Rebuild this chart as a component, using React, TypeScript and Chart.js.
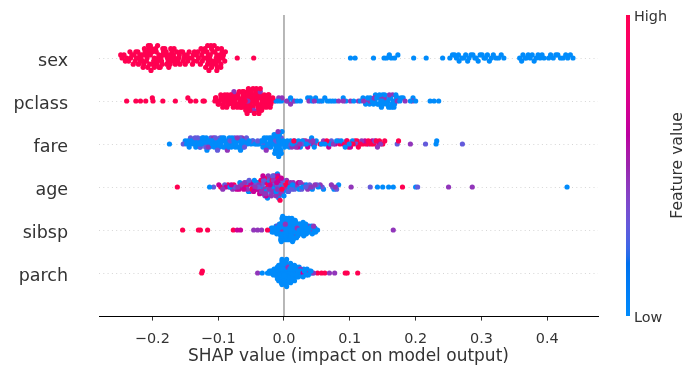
import React, { useEffect, useRef } from "react";
import { Chart, registerables } from "chart.js";

Chart.register(...registerables);

const FONT = '"DejaVu Sans", sans-serif';

// Features, top to bottom
const features = ["sex", "pclass", "fare", "age", "sibsp", "parch"];
const xTicks = [-0.2, -0.1, 0.0, 0.1, 0.2, 0.3, 0.4];
const xMin = -0.281;
const xMax = 0.477;

// feature-value levels (colour position on the colour bar)
const LOW = 0;
const LOWMID = 0.3;
const MID = 0.45;
const HIGHMID = 0.65;
const HIGH = 1;

// ---------- SHAP values ----------
const sexHigh = [-0.248,-0.246,-0.243,-0.241,-0.239,-0.236,-0.234,-0.233,-0.231,-0.229,-0.228,-0.226,-0.225,-0.224,-0.222,-0.221,-0.220,-0.219,-0.218,-0.217,-0.216,-0.215,-0.214,-0.213,-0.212,-0.211,-0.210,-0.209,-0.208,-0.207,-0.206,-0.205,-0.205,-0.204,-0.203,-0.203,-0.202,-0.201,-0.200,-0.199,-0.198,-0.197,-0.197,-0.195,-0.194,-0.193,-0.192,-0.192,-0.191,-0.190,-0.190,-0.188,-0.187,-0.186,-0.185,-0.184,-0.184,-0.183,-0.181,-0.180,-0.179,-0.178,-0.177,-0.176,-0.175,-0.174,-0.173,-0.172,-0.171,-0.170,-0.170,-0.168,-0.167,-0.166,-0.165,-0.164,-0.163,-0.161,-0.160,-0.159,-0.158,-0.157,-0.154,-0.153,-0.152,-0.151,-0.150,-0.147,-0.146,-0.145,-0.144,-0.140,-0.139,-0.138,-0.137,-0.136,-0.133,-0.132,-0.131,-0.130,-0.127,-0.126,-0.125,-0.124,-0.123,-0.122,-0.120,-0.119,-0.118,-0.117,-0.116,-0.116,-0.115,-0.115,-0.114,-0.113,-0.112,-0.111,-0.110,-0.110,-0.109,-0.109,-0.108,-0.106,-0.105,-0.104,-0.104,-0.103,-0.102,-0.102,-0.101,-0.101,-0.099,-0.098,-0.097,-0.096,-0.096,-0.095,-0.094,-0.093,-0.092,-0.090,-0.089,-0.071,-0.046];
const sexLow = [0.101,0.108,0.136,0.152,0.156,0.160,0.163,0.168,0.173,0.197,0.216,0.241,0.252,0.256,0.259,0.262,0.265,0.266,0.270,0.273,0.276,0.279,0.281,0.284,0.287,0.290,0.292,0.295,0.298,0.301,0.304,0.306,0.309,0.312,0.315,0.318,0.322,0.326,0.330,0.334,0.358,0.361,0.363,0.366,0.368,0.371,0.374,0.377,0.380,0.383,0.386,0.389,0.392,0.395,0.402,0.405,0.409,0.413,0.416,0.420,0.424,0.428,0.431,0.435,0.439];

const pclassHigh = [-0.239,-0.225,-0.218,-0.210,-0.200,-0.199,-0.184,-0.165,-0.146,-0.142,-0.134,-0.123,-0.121,
  -0.105,-0.104,-0.103,-0.101,-0.100,-0.099,-0.098,-0.096,-0.095,-0.094,-0.093,-0.092,-0.091,-0.090,-0.089,-0.088,-0.087,-0.086,-0.085,-0.084,-0.083,-0.082,-0.081,-0.080,-0.079,-0.078,-0.077,-0.076,-0.075,-0.074,-0.073,-0.072,-0.071,-0.070,-0.069,-0.068,-0.068,-0.067,-0.066,-0.065,-0.064,-0.063,-0.063,-0.062,-0.062,-0.061,-0.060,-0.059,-0.059,-0.058,-0.058,-0.057,-0.056,-0.056,-0.055,-0.054,-0.054,-0.053,-0.053,-0.052,-0.051,-0.051,-0.050,-0.049,-0.049,-0.048,-0.047,-0.047,-0.046,-0.045,-0.045,-0.044,-0.044,-0.043,-0.042,-0.042,-0.041,-0.041,-0.040,-0.039,-0.039,-0.038,-0.038,-0.037,-0.036,-0.035,-0.035,-0.034,-0.034,-0.033,-0.032,-0.031,-0.030,-0.030,-0.029,-0.028,-0.027,-0.026,-0.025,-0.024,-0.023,-0.022,-0.021,-0.020,-0.019,-0.017,-0.015];
const pclassMid = [-0.076,-0.055,-0.050,-0.046,-0.036,-0.008,-0.003,0.004,0.010,0.016,0.038,0.046,0.055,0.083,0.090,0.101,0.113,0.121,0.128,0.133,0.137,0.146,0.152,0.160,0.165,0.172,0.184,0.195];
const pclassLow = [-0.012,-0.008,-0.004,0.006,0.010,0.014,0.020,0.025,0.036,0.040,0.043,0.048,0.052,0.058,0.062,0.066,0.070,0.074,0.078,0.090,0.094,0.106,0.116,0.120,0.124,0.127,0.130,0.131,0.134,0.136,0.138,0.139,0.141,0.142,0.144,0.145,0.147,0.148,0.149,0.150,0.151,0.153,0.154,0.155,0.156,0.157,0.158,0.159,0.161,0.162,0.163,0.164,0.166,0.167,0.168,0.169,0.170,0.171,0.173,0.176,0.178,0.181,0.192,0.196,0.200,0.222,0.228,0.235];

const fareLow = [-0.174,-0.150,-0.148,-0.146,-0.144,-0.143,-0.141,-0.139,-0.137,-0.136,-0.134,-0.132,
  -0.130,-0.129,-0.128,-0.126,-0.125,-0.124,-0.122,-0.121,-0.120,-0.118,-0.117,-0.116,-0.114,-0.113,-0.112,-0.110,-0.109,-0.108,-0.106,-0.105,-0.103,-0.102,
  -0.100,-0.099,-0.098,-0.096,-0.095,-0.094,-0.092,-0.091,-0.090,-0.088,-0.087,-0.085,-0.084,-0.083,-0.081,-0.080,-0.079,-0.077,-0.076,-0.074,-0.073,-0.072,-0.070,-0.069,-0.068,-0.066,-0.065,-0.063,-0.062,-0.061,-0.059,-0.058,-0.056,
  -0.053,-0.050,-0.047,-0.044,-0.041,-0.038,
  -0.035,-0.033,-0.032,-0.030,-0.029,-0.028,-0.026,-0.025,-0.024,-0.022,-0.021,-0.020,-0.019,-0.018,-0.017,-0.016,-0.015,-0.014,-0.013,-0.012,-0.012,-0.011,-0.011,-0.010,-0.010,-0.009,-0.009,-0.008,-0.008,-0.007,-0.007,-0.006,-0.006,-0.005,-0.004,-0.003,-0.002,-0.001,
  0.001,0.003,0.005,0.008,0.010,0.013,0.016,0.019,0.022,0.025,0.028,0.031,0.034,0.038,0.042,0.046,0.049,
  0.057,0.062,0.066,0.070,0.080,0.087,0.093,0.099,0.104,0.231,0.232];
const fareLowMid = [-0.153,-0.142,-0.135,-0.131,-0.127,-0.119,-0.111,-0.104,-0.101,-0.097,-0.089,-0.082,-0.075,-0.067,-0.060,-0.057,-0.048,-0.040,-0.031,-0.023,-0.013,-0.004,0.007,0.027,0.072,0.110,0.138,0.172,0.215,0.271];
const fareMid = [-0.115,-0.107,-0.086,-0.071,-0.064,-0.027,-0.009,0.012,0.018,0.024,0.033,0.040,0.044,0.047,0.060,0.075,0.083,0.095,0.118,0.128,0.142,0.147,0.192];
const fareHighMid = [0.021,0.036,0.043,0.068,0.078,0.090,0.101,0.123,0.134,0.144];
const fareHigh = [0.015,0.030,0.055,0.065,0.085,0.092,0.096,0.098,0.102,0.105,0.108,0.111,0.113,0.116,0.120,0.125,0.128,0.132,0.136,0.140,0.145,0.150,0.153,0.174];

const ageHigh = [-0.162,-0.096,-0.085,-0.076,-0.066,-0.058,-0.049,-0.042,-0.035,-0.030,-0.026,-0.024,-0.018,-0.014,-0.011,-0.006,-0.003,0.002,0.005,0.180];
const ageHighMid = [-0.099,-0.088,-0.080,-0.072,-0.068,-0.061,-0.055,-0.050,-0.046,-0.040,-0.037,-0.032,-0.030,-0.027,-0.021,-0.019,-0.015,-0.011,-0.009,-0.007,-0.004,0.008,0.022];
const ageMid = [-0.093,-0.083,-0.078,-0.070,-0.064,-0.060,-0.056,-0.052,-0.047,-0.044,-0.041,-0.038,-0.034,-0.031,-0.029,-0.028,-0.025,-0.024,-0.022,-0.019,-0.017,-0.016,-0.013,-0.012,-0.010,-0.007,-0.006,-0.003,0.001,0.004,0.010,0.014,0.019,0.025,0.030,0.036,0.041,0.047,0.055,0.072,0.078,0.102,0.250,0.286];
const ageLowMid = [-0.107,-0.090,-0.074,-0.063,-0.057,-0.053,-0.048,-0.043,-0.039,-0.036,-0.033,-0.031,-0.029,-0.026,-0.023,-0.020,-0.018,-0.017,-0.014,-0.012,-0.010,-0.008,-0.005,-0.002,0.003,0.007,0.012,0.016,0.021,0.027,0.033,0.039,0.044,0.050,0.058,0.074,0.080,0.131,0.203];
const ageLow = [-0.113,-0.082,-0.067,-0.054,-0.045,-0.039,-0.033,-0.027,-0.025,-0.023,-0.019,-0.016,-0.015,-0.012,-0.010,-0.008,-0.007,-0.005,-0.004,-0.001,0.000,0.006,0.009,0.013,0.017,0.023,0.028,0.034,0.043,0.052,0.060,0.076,0.083,0.142,0.150,0.159,0.166,0.200,0.430];

const sibspHigh = [-0.154,-0.130,-0.127,-0.116,-0.077,-0.025,-0.005,0.022];
const sibspHighMid = [-0.071,-0.066];
const sibspMid = [-0.046,-0.040,-0.034,-0.010,-0.004,0.002,0.013,0.017,0.020,0.036,0.040,0.045,0.166];
const sibspLow = [-0.021,-0.019,-0.018,-0.017,-0.016,-0.015,-0.014,-0.013,-0.012,-0.012,-0.011,-0.010,-0.009,-0.009,
  -0.008,-0.008,-0.007,-0.007,-0.006,-0.006,-0.005,-0.005,-0.005,-0.004,-0.004,-0.004,-0.003,-0.003,-0.003,-0.002,
  -0.002,-0.002,-0.001,-0.001,-0.001,0.000,0.000,0.000,0.001,0.001,0.001,
  0.001,0.002,0.002,0.002,0.003,0.003,0.003,0.003,0.004,0.004,0.004,0.004,0.005,
  0.005,0.005,0.005,0.006,0.006,0.006,0.006,0.007,0.007,0.007,0.007,0.008,0.008,
  0.008,0.008,0.009,0.009,0.009,0.009,0.010,0.010,0.010,0.010,0.011,0.011,
  0.011,0.012,0.012,0.012,0.013,0.013,0.013,0.014,0.014,0.014,0.015,
  0.015,0.015,0.016,0.016,0.016,0.017,0.017,0.017,0.018,0.018,
  0.018,0.019,0.019,0.020,0.020,0.020,0.021,0.021,0.022,
  0.022,0.023,0.023,0.024,0.024,0.025,0.025,0.026,
  0.026,0.027,0.027,0.028,0.028,0.029,0.029,
  0.030,0.030,0.031,0.031,0.032,0.032,0.033,0.033,0.034,0.034,0.035,
  0.036,0.037,0.037,0.038,0.039,0.040,0.041,0.042,0.043,0.044,0.045,0.046,0.047,0.048,0.049,0.051];

const parchHigh = [-0.125,-0.124,0.020,0.051,0.057,0.062,0.093,0.096,0.112];
const parchHighMid = [0.015,0.029,0.036];
const parchMid = [-0.040,0.006,0.012,0.025,0.033,0.040,0.045,0.069,0.077];
const parchLow = [-0.033,-0.025,-0.023,-0.022,-0.021,-0.020,-0.019,-0.018,-0.017,-0.016,-0.016,-0.015,
  -0.014,-0.013,-0.013,-0.012,-0.012,-0.011,-0.011,-0.010,-0.010,-0.010,-0.009,-0.009,-0.009,-0.008,-0.008,-0.008,
  -0.007,-0.007,-0.007,-0.006,-0.006,-0.006,-0.006,-0.005,-0.005,-0.005,-0.005,-0.004,-0.004,-0.004,-0.004,-0.004,
  -0.003,-0.003,-0.003,-0.003,-0.003,-0.002,-0.002,-0.002,-0.002,-0.002,-0.001,-0.001,-0.001,-0.001,-0.001,0.000,0.000,
  0.000,0.000,0.000,0.001,0.001,0.001,0.001,0.001,0.002,0.002,0.002,0.002,0.002,
  0.003,0.003,0.003,0.003,0.003,0.004,0.004,0.004,0.004,0.004,0.005,0.005,
  0.005,0.005,0.006,0.006,0.006,0.006,0.007,0.007,0.007,0.007,
  0.008,0.008,0.008,0.008,0.009,0.009,0.009,0.009,0.010,
  0.010,0.010,0.010,0.011,0.011,0.011,0.012,0.012,
  0.012,0.013,0.013,0.013,0.014,0.014,0.014,
  0.015,0.015,0.016,0.016,0.016,0.017,0.017,0.017,0.018,0.018,0.019,0.019,
  0.019,0.020,0.020,0.021,0.021,0.022,0.022,0.023,0.023,
  0.024,0.025,0.025,0.026,0.026,0.027,0.028,0.029,0.030,0.030,0.031,0.032,0.033,
  0.034,0.035,0.036,0.037,0.038,0.039,0.041,0.043];

type Group = { vals: number[]; level: number };
const rowGroups: Group[][] = [
  [{ vals: sexHigh, level: HIGH }, { vals: sexLow, level: LOW }],
  [{ vals: pclassHigh, level: HIGH }, { vals: pclassMid, level: MID }, { vals: pclassLow, level: LOW }],
  [{ vals: fareLow, level: LOW }, { vals: fareLowMid, level: LOWMID }, { vals: fareMid, level: MID }, { vals: fareHighMid, level: HIGHMID }, { vals: fareHigh, level: HIGH }],
  [{ vals: ageLow, level: LOW }, { vals: ageLowMid, level: LOWMID }, { vals: ageMid, level: MID }, { vals: ageHighMid, level: HIGHMID }, { vals: ageHigh, level: HIGH }],
  [{ vals: sibspLow, level: LOW }, { vals: sibspMid, level: MID }, { vals: sibspHighMid, level: HIGHMID }, { vals: sibspHigh, level: HIGH }],
  [{ vals: parchLow, level: LOW }, { vals: parchMid, level: MID }, { vals: parchHighMid, level: HIGHMID }, { vals: parchHigh, level: HIGH }],
];

// ---------- SHAP red-blue colour map (LCh interpolation) ----------
function cmap(t: number): string {
  t = Math.min(1, Math.max(0, t));
  const bL = 54, bC = 70, bH = 4.6588;
  const rL = 54, rC = 90, rH = 0.35470565 + 2 * Math.PI;
  const lMid = 40;
  const L = t < 0.5 ? bL + (lMid - bL) * (t / 0.5) : lMid + (rL - lMid) * ((t - 0.5) / 0.5);
  const C = bC + (rC - bC) * t;
  const H = bH + (rH - bH) * t;
  const a = C * Math.cos(H), b = C * Math.sin(H);
  const fy = (L + 16) / 116, fx = fy + a / 500, fz = fy - b / 200;
  const finv = (v: number) => (v > 6 / 29 ? v * v * v : 3 * (6 / 29) * (6 / 29) * (v - 4 / 29));
  const X = 0.95047 * finv(fx), Y = finv(fy), Z = 1.08883 * finv(fz);
  const lin = [
    3.2406 * X - 1.5372 * Y - 0.4986 * Z,
    -0.9689 * X + 1.8758 * Y + 0.0415 * Z,
    0.0557 * X - 0.204 * Y + 1.057 * Z,
  ];
  const rgb = lin.map((v) => {
    const g = v > 0.0031308 ? 1.055 * Math.pow(v, 1 / 2.4) - 0.055 : 12.92 * v;
    return Math.round(Math.min(1, Math.max(0, g)) * 255);
  });
  return `rgb(${rgb[0]},${rgb[1]},${rgb[2]})`;
}

const hash = (i: number) => Math.imul(i + 1, 2654435761) >>> 0;

// SHAP beeswarm layering (deterministic order within each bin)
function beeswarm(vals: number[], rowHeight = 0.4): number[] {
  const N = vals.length;
  const nbins = 100;
  const mn = Math.min(...vals), mx = Math.max(...vals);
  const quant = vals.map((v) => Math.round((nbins * (v - mn)) / (mx - mn + 1e-8)));
  const order = vals.map((_, i) => i).sort((a, b) => quant[a] - quant[b] || hash(a) - hash(b));
  const ys = new Array(N).fill(0);
  let layer = 0, last = -1;
  for (const i of order) {
    if (quant[i] !== last) layer = 0;
    ys[i] = Math.ceil(layer / 2) * ((layer % 2) * 2 - 1);
    layer++;
    last = quant[i];
  }
  const m = Math.max(...ys.map((y) => y + 1));
  return ys.map((y) => y * 0.9 * (rowHeight / m));
}

function buildDatasets() {
  return rowGroups.map((groups, r) => {
    const yPos = features.length - 1 - r;
    const pts: { x: number; fv: number }[] = [];
    groups.forEach((g) => g.vals.forEach((v) => pts.push({ x: v, fv: g.level })));
    const idx = pts.map((_, i) => i).sort((a, b) => hash(a * 7 + r) - hash(b * 7 + r));
    const ordered = idx.map((i) => pts[i]);
    const dys = beeswarm(ordered.map((p) => p.x));
    return {
      label: features[r],
      data: ordered.map((p, i) => ({ x: p.x, y: yPos + dys[i] })),
      pointBackgroundColor: ordered.map((p) => cmap(p.fv)),
      pointBorderWidth: 0,
      pointRadius: 2.6,
      pointHoverRadius: 2.6,
      showLine: false,
    };
  });
}

const fmtTick = (v: number) => {
  const s = Math.abs(v).toFixed(1);
  return v < -1e-9 ? "\u2212" + s : s;
};

const bgPlugin = {
  id: "shapBg",
  beforeDatasetsDraw(chart: any) {
    const { ctx, chartArea, scales } = chart;
    ctx.save();
    ctx.strokeStyle = "#d6d6d6";
    ctx.lineWidth = 1;
    ctx.setLineDash([1, 3.3]);
    for (let i = 0; i < features.length; i++) {
      const y = Math.round(scales.y.getPixelForValue(i)) + 0.5;
      ctx.beginPath();
      ctx.moveTo(chartArea.left, y);
      ctx.lineTo(chartArea.right, y);
      ctx.stroke();
    }
    ctx.setLineDash([]);
    const x0 = scales.x.getPixelForValue(0);
    ctx.strokeStyle = "#999999";
    ctx.lineWidth = 1.4;
    ctx.beginPath();
    ctx.moveTo(x0, chartArea.top);
    ctx.lineTo(x0, chartArea.bottom);
    ctx.stroke();
    ctx.restore();
  },
  afterDraw(chart: any) {
    const { ctx, chartArea } = chart;
    const top = chartArea.top, bottom = chartArea.bottom;
    const x0 = chartArea.right + 28;
    ctx.save();
    const grad = ctx.createLinearGradient(0, bottom, 0, top);
    for (let i = 0; i <= 40; i++) grad.addColorStop(i / 40, cmap(i / 40));
    ctx.fillStyle = grad;
    ctx.fillRect(x0, top, 4, bottom - top);
    ctx.fillStyle = "#333333";
    ctx.font = `14.4px ${FONT}`;
    ctx.textAlign = "left";
    ctx.textBaseline = "middle";
    ctx.fillText("High", x0 + 8, top + 2);
    ctx.fillText("Low", x0 + 8, bottom + 2);
    ctx.translate(x0 + 52, (top + bottom) / 2);
    ctx.rotate(-Math.PI / 2);
    ctx.textAlign = "center";
    ctx.font = `15.6px ${FONT}`;
    ctx.fillText("Feature value", 0, 0);
    ctx.restore();
  },
};

export default function App() {
  const ref = useRef<HTMLCanvasElement | null>(null);
  useEffect(() => {
    if (!ref.current) return;
    const chart = new Chart(ref.current, {
      type: "scatter",
      data: { datasets: buildDatasets() as any },
      options: {
        animation: false,
        responsive: false,
        devicePixelRatio: 1,
        events: [],
        layout: { padding: { left: 0, right: 99, top: 15, bottom: 0 } },
        plugins: { legend: { display: false }, tooltip: { enabled: false } },
        scales: {
          x: {
            type: "linear",
            min: xMin,
            max: xMax,
            afterBuildTicks: (s: any) => {
              s.ticks = xTicks.map((v) => ({ value: v }));
            },
            afterFit: (s: any) => {
              s.height = 58;
              s.paddingLeft = 0;
              s.paddingRight = 0;
              s.paddingTop = 0;
              s.paddingBottom = 0;
            },
            grid: {
              display: true,
              drawOnChartArea: false,
              drawTicks: true,
              tickLength: 4.6,
              tickWidth: 1,
              tickColor: "#333333",
            },
            border: { display: true, color: "#000000", width: 1 },
            ticks: {
              color: "#333333",
              font: { family: FONT, size: 14.4 },
              padding: 10,
              maxRotation: 0,
              autoSkip: false,
              callback: (v: any) => fmtTick(Number(v)),
            },
            title: {
              display: true,
              text: "SHAP value (impact on model output)",
              color: "#333333",
              font: { family: FONT, size: 17 },
              padding: { top: 0, bottom: 7 },
            },
          },
          y: {
            type: "linear",
            min: -1,
            max: 6,
            afterBuildTicks: (s: any) => {
              s.ticks = features.map((_, i) => ({ value: i }));
            },
            afterFit: (s: any) => {
              s.width = 99;
              s.paddingTop = 0;
              s.paddingBottom = 0;
              s.paddingLeft = 0;
              s.paddingRight = 0;
            },
            grid: { display: false, drawTicks: false, tickLength: 0 },
            border: { display: false },
            ticks: {
              color: "#333333",
              font: { family: FONT, size: 17.5 },
              padding: 31,
              labelOffset: 3.5,
              autoSkip: false,
              callback: (v: any) => features[features.length - 1 - Number(v)],
            },
          },
        },
      },
      plugins: [bgPlugin],
    });
    return () => chart.destroy();
  }, []);
  return (
    <div style={{ position: "absolute", left: 0, top: 0, width: 697, height: 374, background: "#fff" }}>
      <canvas ref={ref} width={697} height={374} style={{ width: 697, height: 374, display: "block" }} />
    </div>
  );
}
